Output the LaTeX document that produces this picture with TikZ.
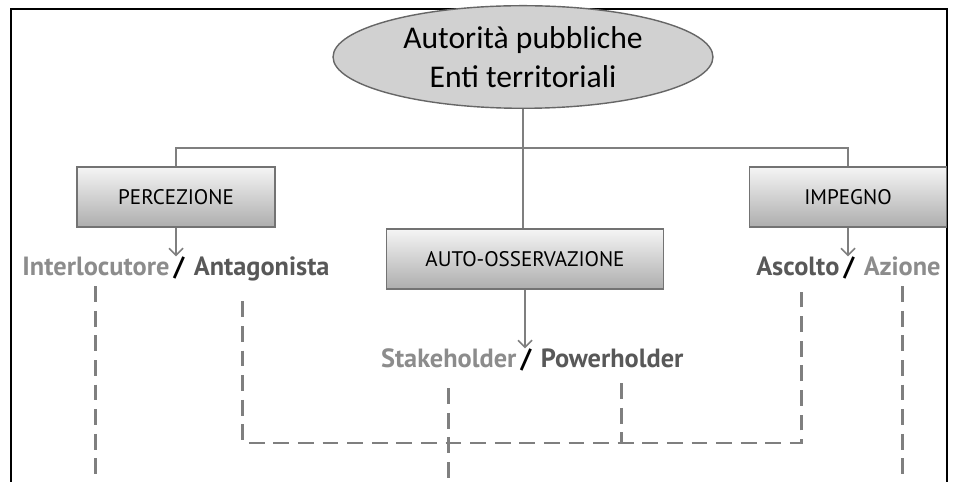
\documentclass[tikz,border=0pt]{standalone}
\usepackage{fontspec}
\setmainfont{Carlito}
\newfontfamily\labelfont{PT Sans}
\usepackage{tikz}
\usetikzlibrary{arrows.meta,shapes,positioning}
\definecolor{linegray}{HTML}{7F7F7F}
\definecolor{lightword}{HTML}{8C8C8C}
\definecolor{darkword}{HTML}{585858}
\tikzstyle{authority}=[ellipse,draw=black!60,fill=black!18,line width=0.8pt,minimum width=7.6cm,minimum height=1.74cm,align=center,font=\fontsize{18}{22}\selectfont]
\tikzstyle{level}=[rectangle,draw=black!55,line width=0.8pt,top color=black!4,bottom color=black!32,minimum height=1.2cm,font=\labelfont\fontsize{12}{14}\selectfont]
\tikzstyle{word}=[inner sep=0pt,font=\labelfont\bfseries\fontsize{15}{18}\selectfont]
\tikzstyle{link}=[draw=linegray,line width=0.9pt]
\tikzstyle{track}=[draw=linegray,line width=1.7pt,dash pattern=on 9pt off 5pt]

\begin{document}
\begin{tikzpicture}[x=0.02cm,y=-0.02cm]
      \tikzset{down/.style = {link,-{Straight Barb[length=4pt,width=8pt]}}}
      \useasboundingbox (0,0) rectangle (955,482);
      \draw[line width=0.8pt] (11,482) -- (11,9) -- (947,9) -- (947,482);
      % top of the tree
      \node[authority] (auth) at (523,57) {Autorità pubbliche\\Enti territoriali};
      \node[level,minimum width=3.96cm] (perc) at (176,197) {PERCEZIONE};
      \node[level,minimum width=5.54cm] (auto) at (525,259) {AUTO-OSSERVAZIONE};
      \node[level,minimum width=3.94cm] (imp) at (848,197) {IMPEGNO};
      \coordinate (bar) at (0,148);
      \coordinate (bot) at (0,482);
      \coordinate (loop) at (0,443);
      \draw[link] (auth) -- (auth.south |- auto.north);
      \draw[link] (perc.north) -- (perc.north |- bar) -- (imp.north |- bar) -- (imp.north);
      % word pairs
      \node[word] (slashA) at (179,268) {/};
      \node[word,lightword,base left=2pt of slashA] (inter) {Interlocutore};
      \node[word,darkword,base right=5pt of slashA] (antag) {Antagonista};
      \node[word] (slashB) at (526,360) {/};
      \node[word,lightword,base left=2pt of slashB] (stake) {Stakeholder};
      \node[word,darkword,base right=5pt of slashB] (power) {Powerholder};
      \node[word] (slashC) at (849,268) {/};
      \node[word,darkword,base left=2pt of slashC] (ascolto) {Ascolto};
      \node[word,lightword,base right=5pt of slashC] (azione) {Azione};
      \draw[down] (perc) -- (perc.south |- slashA.north);
      \draw[down] (auto) -- (auto.south |- slashB.north);
      \draw[down] (imp) -- (imp.south |- slashC.north);
      % dashed tracks
      \coordinate (antagdrop) at ([xshift=-0.38cm,yshift=-0.4cm]antag.south);
      \coordinate (ascdrop) at ([xshift=0.08cm,yshift=-0.3cm]ascolto.south);
      \draw[track] ([yshift=-0.2cm]inter.south) -- (inter.south |- bot);
      \draw[track] (antagdrop) |- (loop -| ascdrop) -- (ascdrop);
      \draw[track] ([yshift=-0.4cm]stake.south) -- (stake.south |- bot);
      \draw[track] ([xshift=0.18cm,yshift=-0.3cm]power.south) -- ([xshift=0.18cm]power.south |- loop);
      \draw[track] ([yshift=-0.2cm]azione.south) -- (azione.south |- bot);
\end{tikzpicture}
\end{document}
